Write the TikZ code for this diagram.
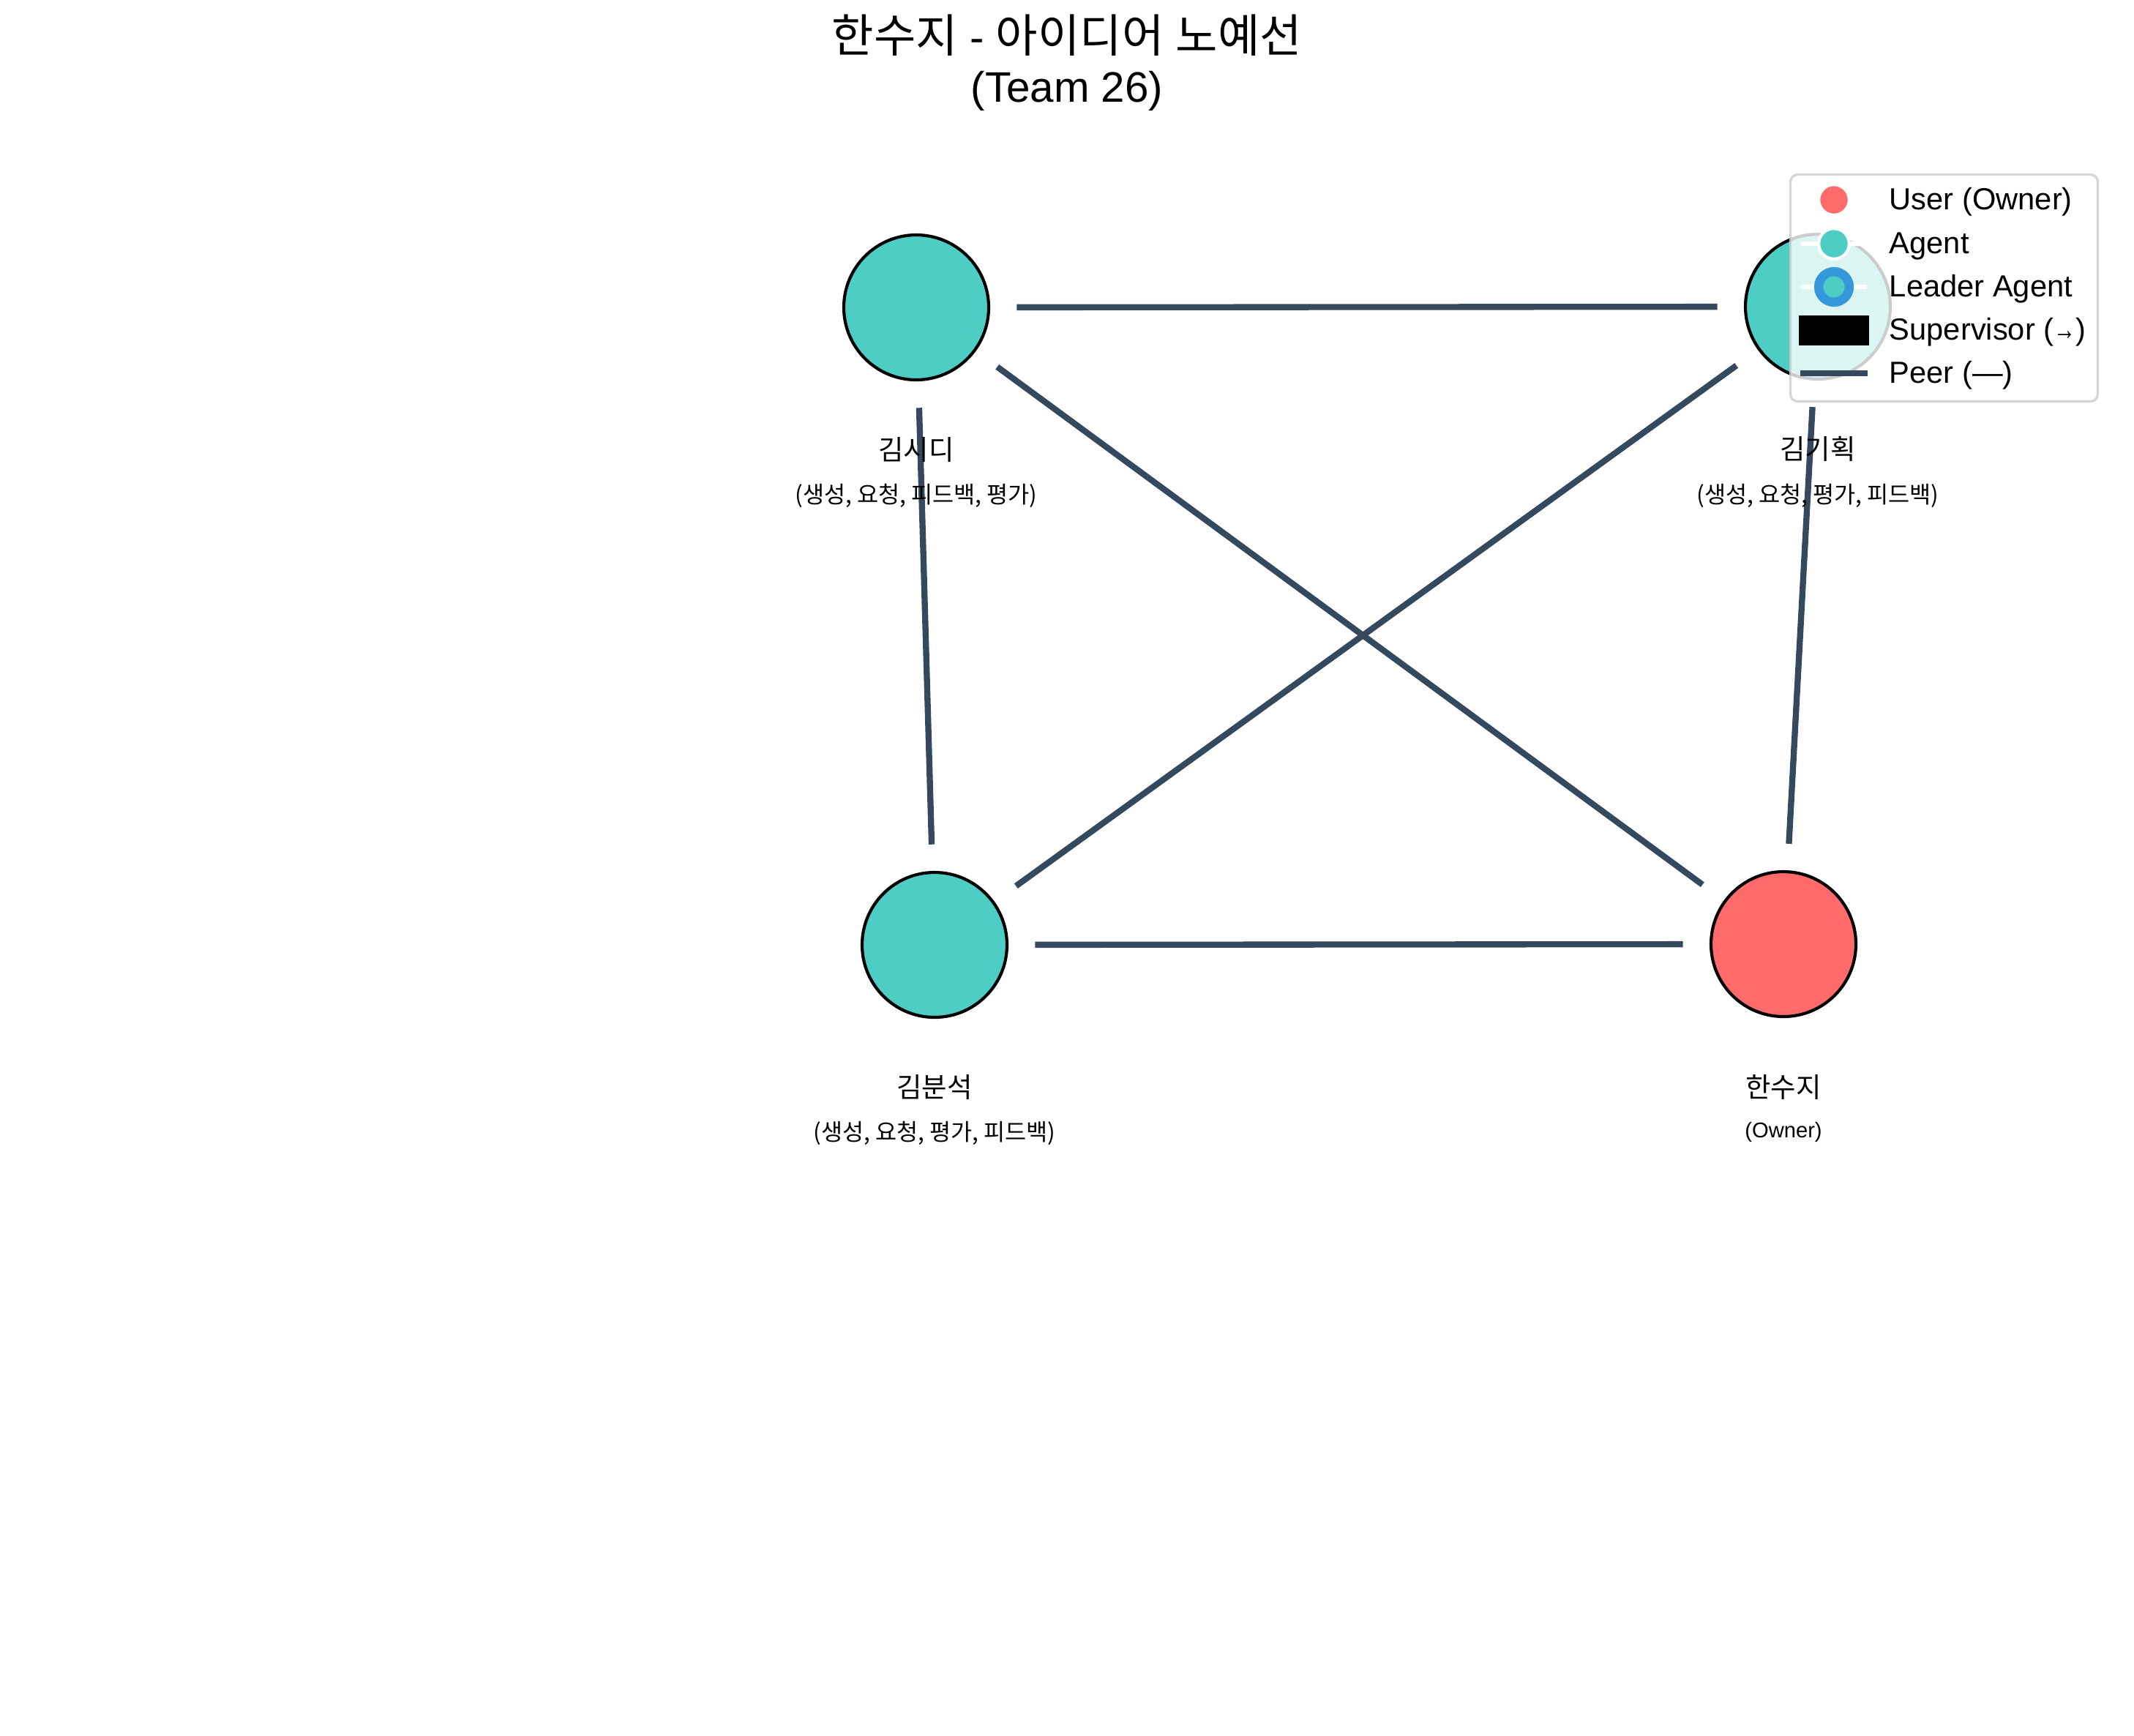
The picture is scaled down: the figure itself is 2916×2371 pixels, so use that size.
\documentclass[tikz,border=0pt]{standalone}
\usepackage{fontspec}
\usepackage{graphicx}
\setmainfont{Liberation Sans}
\newfontfamily\cjk{Noto Sans CJK KR}
\newfontfamily\cjkt[Scale=1.07]{Noto Sans CJK KR}
\definecolor{tealc}{HTML}{4ECDC4}
\definecolor{redc}{HTML}{FF6B6B}
\definecolor{peerc}{HTML}{34495E}
\definecolor{leadc}{HTML}{3498DB}
\definecolor{lgray}{HTML}{CCCCCC}
\tikzset{
  agentnode/.style={circle, draw=black, line width=1pt, fill=tealc, minimum size=47.52pt, inner sep=0pt, outer sep=0pt},
  ownernode/.style={agentnode, fill=redc},
  peeredge/.style={draw=peerc, line width=2pt, shorten >=9.2pt, shorten <=9.2pt},
  namelabel/.style={font=\cjk\fontsize{9}{11}\selectfont, inner sep=0pt},
  rolelabel/.style={font=\cjk\fontsize{7.6}{9}\selectfont, inner sep=0pt},
  ownerlabel/.style={font=\fontsize{7}{9}\selectfont, inner sep=0pt},
  legtext/.style={font=\fontsize{10}{12}\selectfont, anchor=base west, inner sep=0pt},
  legline/.style={draw=white, line width=1.5pt},
  legmark/.style={circle, minimum size=10pt, inner sep=0pt, outer sep=0pt}
}
\begin{document}
\begin{tikzpicture}[x=0.24pt, y=-0.24pt]
\useasboundingbox (0,0) rectangle (2916,2371);
% title
\node[align=center, inner sep=0pt, font=\fontsize{14}{16.3}\selectfont] (title) at (1458,86)
  {{\cjkt 한수지} - {\cjkt 아이디어} {\cjkt 노예선}\\(Team 26)};
% nodes
\node[agentnode] (sidi) at (1252,420) {};
\node[agentnode] (gihoek) at (2484,419) {};
\node[agentnode] (bunseok) at (1277,1291) {};
\node[ownernode] (hansuji) at (2437,1290) {};
% peer edges
\draw[peeredge] (sidi) -- (gihoek);
\draw[peeredge] (sidi) -- (bunseok);
\draw[peeredge] (sidi) -- (hansuji);
\draw[peeredge] (gihoek) -- (bunseok);
\draw[peeredge] (gihoek) -- (hansuji);
\draw[peeredge] (bunseok) -- (hansuji);
% labels
\node[namelabel] (sidiN) at (1252,614) {김시디};
\node[rolelabel] (sidiR) at (1252,677) {(생성, 요청, 피드백, 평가)};
\node[namelabel] (gihoekN) at (2484,613) {김기획};
\node[rolelabel] (gihoekR) at (2484,677) {(생성, 요청, 평가, 피드백)};
\node[namelabel] (bunseokN) at (1277,1485) {김분석};
\node[rolelabel] (bunseokR) at (1277,1548) {(생성, 요청, 평가, 피드백)};
\node[namelabel] (hansujiN) at (2437,1485) {한수지};
\node[ownerlabel] (hansujiR) at (2437,1547) {(Owner)};
% legend
\node[draw=lgray, draw opacity=0.8, line width=0.8pt, fill=white, fill opacity=0.8, rounded corners=2.4pt,
      minimum width=100.8pt, minimum height=74.4pt, inner sep=0pt] (legbox) at (2656.5,393.5) {};
\coordinate (l1a) at (2461,273); \coordinate (l1b) at (2551,273);
\coordinate (l2a) at (2461,333); \coordinate (l2b) at (2551,333);
\coordinate (l3a) at (2461,392); \coordinate (l3b) at (2551,392);
\coordinate (l5a) at (2460,510); \coordinate (l5b) at (2552,510);
\draw[legline] (l1a) -- (l1b);
\draw[legline] (l2a) -- (l2b);
\draw[legline] (l3a) -- (l3b);
\node[legmark, fill=redc, draw=white, line width=1pt] (mk1) at (2506,273) {};
\node[legmark, fill=tealc, draw=white, line width=1pt] (mk2) at (2506,333) {};
\node[legmark, fill=tealc, draw=leadc, line width=3pt] (mk3) at (2506,392) {};
\node[fill=black, minimum width=23.04pt, minimum height=9.84pt, inner sep=0pt] (mk4) at (2506,451) {};
\draw[draw=peerc, line width=2pt] (l5a) -- (l5b);
\node[legtext] (t1) at (2581,286.5) {User (Owner)};
\node[legtext] (t2) at (2581,346.5) {Agent};
\node[legtext] (t3) at (2581,405.5) {Leader Agent};
\node[legtext] (t4) at (2581,464.5) {Supervisor (\scalebox{0.72}[1]{→})};
\node[legtext] (t5) at (2581,523.5) {Peer (—)};
\end{tikzpicture}
\end{document}
